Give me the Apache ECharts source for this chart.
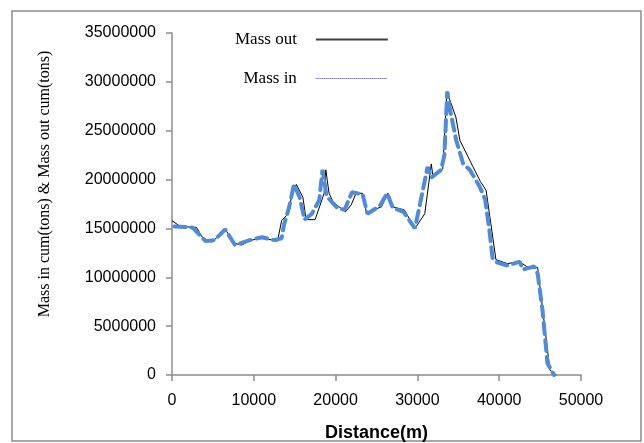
<!DOCTYPE html>
<html>
<head>
<meta charset="utf-8">
<script src="https://cdn.jsdelivr.net/npm/echarts@6/dist/echarts.min.js"></script>
<style>
    html, body {margin:0;padding:0;background:#ffffff;}
    #chart {width:644px;height:443px;}
</style>
</head>
<body>
<div id="chart"></div>
<script>
    // 距离 (m) 与 累计质量 (tons)
    var distOut = [0, 1000, 3000, 3700, 4800, 6600, 7600, 8500, 9700, 10900, 11700, 12900, 13400, 14200, 14700, 15200,
        16000, 16400, 17500, 18600, 18800, 19200, 19700, 21200, 21900, 22500, 23300, 23800, 24600, 25600, 26400,
        27000, 28400, 29700, 30900, 31700, 31900, 33100, 33600, 34700, 35200, 36800, 37700, 38400, 39600, 41000,
        42500, 43700, 44700, 46200, 47000];
    var massOut = [15.8, 15.2, 15.1, 14.1, 13.6, 14.8, 13.5, 13.3, 13.8, 14.0, 13.9, 13.7, 15.8, 16.5, 18.6, 19.5,
        18.2, 15.9, 15.9, 18.6, 21.0, 18.6, 17.7, 16.7, 17.4, 18.6, 18.6, 16.5, 16.9, 17.2, 18.6,
        17.2, 16.9, 15.0, 16.5, 21.6, 20.3, 21.1, 29.0, 26.4, 24.0, 21.3, 19.8, 18.9, 11.8, 11.4,
        11.6, 10.9, 11.0, 0.5, 0];

    var distIn = [300, 2500, 4100, 5200, 6500, 7700, 9500, 11000, 12500, 13400, 13700, 14300, 14900, 15600, 16200,
        17100, 18000, 18400, 18900, 20200, 21100, 22000, 23300, 23900, 25400, 26300, 27000, 28300, 29700, 31250,
        31700, 32900, 33300, 33650, 34000, 34750, 35600, 36400, 37600, 38300, 38800, 39200, 39800, 41000, 42500,
        42900, 44300, 44700, 45300, 45900, 46700];
    var massIn = [15.2, 15.1, 13.7, 13.8, 14.9, 13.3, 13.8, 14.1, 13.8, 14.0, 15.4, 17.1, 19.5, 18.2, 15.9,
        16.5, 17.9, 21.0, 18.3, 17.1, 16.9, 18.7, 18.5, 16.5, 17.3, 18.6, 17.1, 16.7, 15.0, 21.3,
        20.2, 21.0, 22.5, 29.0, 27.1, 24.0, 21.6, 21.0, 19.3, 17.9, 14.8, 11.9, 11.5, 11.2, 11.6,
        10.8, 11.1, 10.4, 6.6, 1.2, 0];

    function pairs(xs, ys) {
        var out = [];
        for (var i = 0; i < xs.length; i++) {
            out.push([xs[i], ys[i] * 1000000]);
        }
        return out;
    }

    var chart = echarts.init(document.getElementById('chart'));

    var axisGray = '#8c8c8c';

    var option = {
        animation: false,
        backgroundColor: '#ffffff',
        graphic: [
            {
                type: 'rect',
                shape: {x: 12, y: 11, width: 629, height: 430},
                style: {fill: 'none', stroke: axisGray, lineWidth: 1.5},
                silent: true
            }
        ],
        grid: {
            left: 172,
            right: 63,
            top: 33,
            bottom: 68,
            containLabel: false,
            outerBoundsMode: 'none'
        },
        legend: {
            orient: 'vertical',
            left: 230,
            top: 26,
            align: 'right',
            itemGap: 22,
            itemWidth: 72,
            itemHeight: 12,
            textStyle: {
                fontFamily: 'Liberation Serif',
                fontSize: 17,
                color: '#000',
                padding: [0, 14, 0, 0]
            },
            data: [
                {name: 'Mass out', itemStyle: {opacity: 0}, lineStyle: {color: '#404040', width: 2, type: 'solid'}},
                {name: 'Mass in', itemStyle: {opacity: 0}, lineStyle: {color: '#8080ff', width: 1, type: 'dotted'}}
            ]
        },
        xAxis: {
            type: 'value',
            min: 0,
            max: 50000,
            interval: 10000,
            name: 'Distance(m)',
            nameLocation: 'middle',
            nameGap: 49,
            nameTextStyle: {
                fontFamily: 'Liberation Sans',
                fontWeight: 'bold',
                fontSize: 18,
                color: '#000'
            },
            splitLine: {show: false},
            axisLine: {lineStyle: {color: axisGray, width: 1.5}},
            axisTick: {show: true, length: 6, lineStyle: {color: axisGray, width: 1.5}},
            axisLabel: {
                fontFamily: 'Liberation Sans',
                fontSize: 16,
                color: '#000',
                margin: 18,
                formatter: function (v) { return String(v); }
            }
        },
        yAxis: {
            type: 'value',
            min: 0,
            max: 35000000,
            interval: 5000000,
            name: 'Mass in cum(tons) & Mass out cum(tons)',
            nameLocation: 'middle',
            nameGap: 119,
            nameTextStyle: {
                fontFamily: 'Liberation Serif',
                fontSize: 16,
                color: '#000',
                padding: [0, 0, 0, 40]
            },
            splitLine: {show: false},
            axisLine: {show: true, lineStyle: {color: axisGray, width: 1.5}},
            axisTick: {show: true, length: 6, lineStyle: {color: axisGray, width: 1.5}},
            axisLabel: {
                fontFamily: 'Liberation Sans',
                fontSize: 16,
                color: '#000',
                margin: 16,
                formatter: function (v) { return String(v); }
            }
        },
        series: [
            {
                name: 'Mass out',
                type: 'line',
                symbol: 'none',
                lineStyle: {color: '#000000', width: 1},
                itemStyle: {color: '#000000'},
                data: pairs(distOut, massOut)
            },
            {
                name: 'Mass in',
                type: 'line',
                symbol: 'none',
                lineStyle: {color: '#4f8bdc', width: 4, type: [11, 6], cap: 'round'},
                itemStyle: {color: '#4f8bdc'},
                data: pairs(distIn, massIn)
            }
        ]
    };

    chart.setOption(option);
</script>
</body>
</html>
